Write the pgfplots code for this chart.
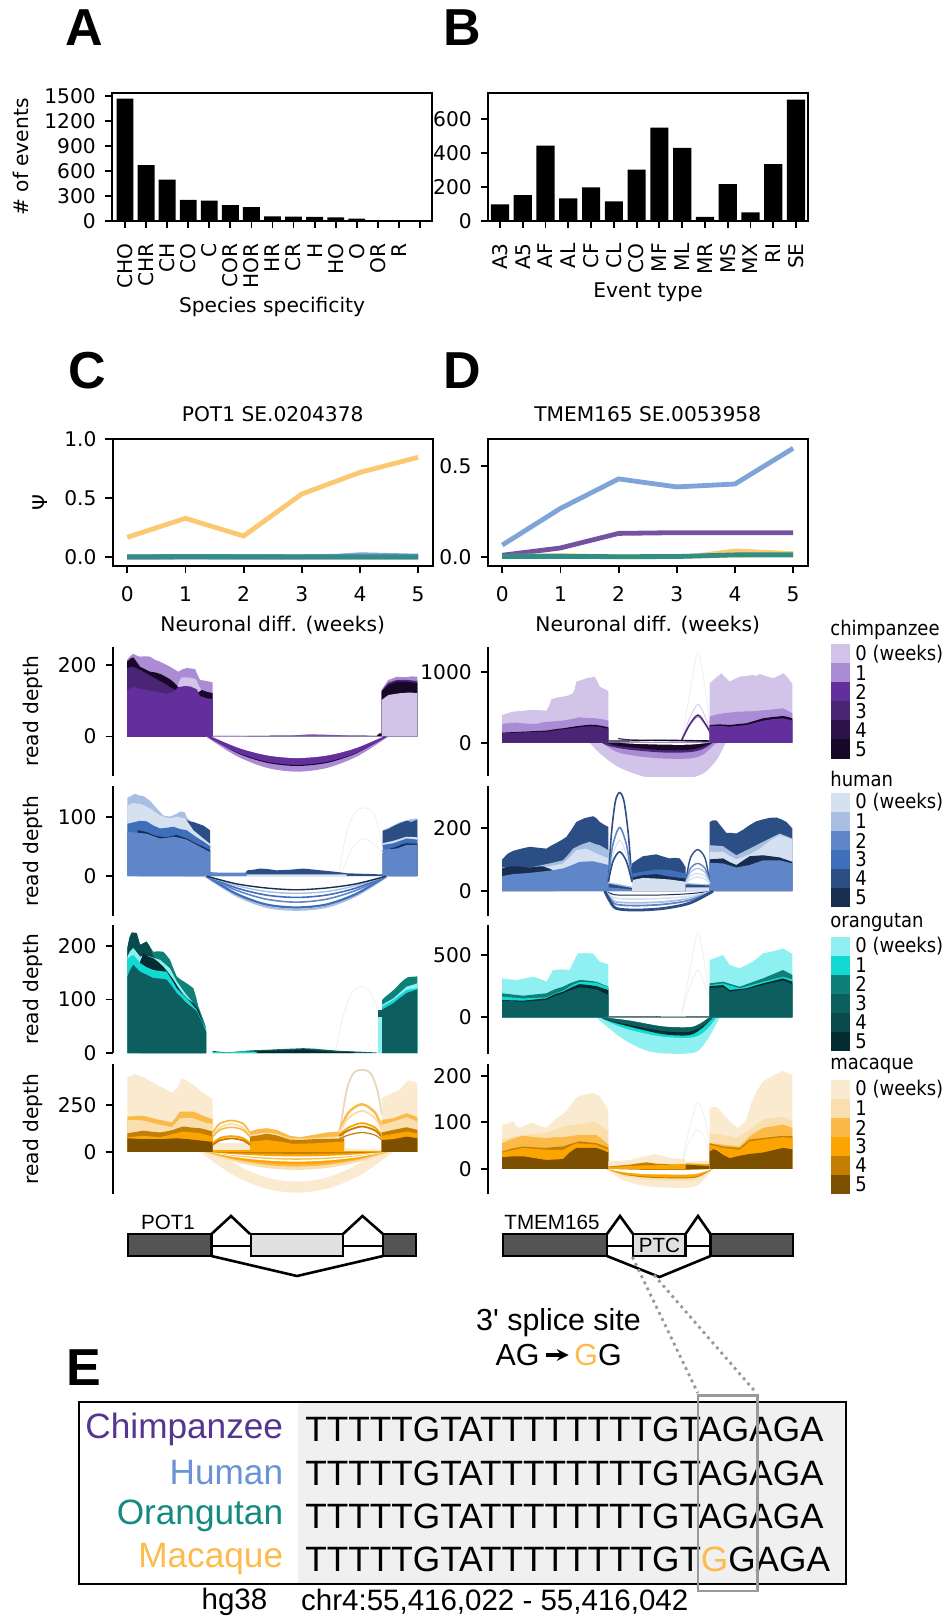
\documentclass[border=0pt]{standalone}
\usepackage{pgfplots}
\pgfplotsset{compat=1.18}
\usepackage{fontspec}
\setmainfont{DejaVu Sans}
\newfontfamily\ar{Liberation Sans}
\definecolor{c0}{HTML}{D2C3E8}\definecolor{c1}{HTML}{AA8BD4}\definecolor{c2}{HTML}{632F9C}
\definecolor{c3}{HTML}{4A2475}\definecolor{c4}{HTML}{2B1248}\definecolor{c5}{HTML}{170828}
\definecolor{h0}{HTML}{D5E0F0}\definecolor{h1}{HTML}{A9BFE2}\definecolor{h2}{HTML}{5F86C8}
\definecolor{h3}{HTML}{3F6FBA}\definecolor{h4}{HTML}{2B4F85}\definecolor{h5}{HTML}{182D50}
\definecolor{o0}{HTML}{8EF0F0}\definecolor{o1}{HTML}{12DAD2}\definecolor{o2}{HTML}{0E8078}
\definecolor{o3}{HTML}{0C5F5E}\definecolor{o4}{HTML}{094B4C}\definecolor{o5}{HTML}{042C30}
\definecolor{m0}{HTML}{F9EAD0}\definecolor{m1}{HTML}{FADFAE}\definecolor{m2}{HTML}{FBB948}
\definecolor{m3}{HTML}{FCA500}\definecolor{m4}{HTML}{C47E04}\definecolor{m5}{HTML}{7D5000}
\definecolor{lchimp}{HTML}{73539F}\definecolor{lhuman}{HTML}{7EA4D8}
\definecolor{lorang}{HTML}{2F8F85}\definecolor{lmac}{HTML}{FAC971}
\definecolor{faint}{HTML}{EFEFEF}\definecolor{tan}{HTML}{E8D8B8}
\newcommand{\Ar}[2]{\addplot[fill=#1,draw=none,mark=none] coordinates {#2} \closedcycle;}
\newcommand{\Dm}[2]{\addplot[fill=#1,draw=none,mark=none,smooth] coordinates {#2} \closedcycle;}
\newcommand{\Ln}[3]{\addplot[color=#1,line width=#2,mark=none,smooth] coordinates {#3};}
\newcommand{\fs}{\fontsize{10.1}{12}\selectfont}
\pgfplotsset{
 base/.style={scale only axis,
  /pgf/number format/assume math mode=true,/pgf/number format/1000 sep={},
  tick label style={font=\fs},label style={font=\fs},title style={font=\fs},
  axis line style={line width=1pt},tick style={black,line width=.9pt},
  tick align=outside,major tick length=3.6pt,every axis title shift=0pt,
  every y tick label/.append style={xshift=-1pt}},
 box/.style={base,xtick pos=bottom,ytick pos=left},
 bars/.style={box,ybar,bar width=.8,width=160pt,height=64pt,ymin=0,
  xtick=data,xticklabel style={rotate=90,anchor=east,xshift=-4pt},
  xlabel style={at={(axis description cs:.5,#1)},anchor=center}},
 psi/.style={box,width=160pt,height=63.5pt,xmin=-.25,xmax=5.25,xtick={0,1,2,3,4,5},
  every x tick label/.append style={yshift=-3pt},
  title style={at={(axis description cs:.5,1.197)},anchor=center},
  xlabel={Neuronal diff. (weeks)},
  xlabel style={at={(axis description cs:.5,-.465)},anchor=center}},
 rd/.style={base,hide x axis,axis y line*=left,axis line style={-},height=64.7pt},
 rl/.style={rd,width=159.65pt,xmin=158,xmax=1116,ylabel={read depth},
  ylabel style={at={(axis description cs:-.25,.5)},anchor=center}},
 rr/.style={rd,width=159.85pt,xmin=175,xmax=1134},
}
\begin{document}
\begin{tikzpicture}
\path[use as bounding box] (0,0) rectangle (473.5pt,-808.5pt);

% ---------- A
\begin{axis}[bars=-.67,at={(56pt,-110.5pt)},xmin=-.617,xmax=14.57,ymax=1533,
 ytick={0,300,600,900,1200,1500},
 xticklabels={CHO,CHR,CH,CO,C,COR,HOR,HR,CR,H,HO,O,OR,R},
 xlabel={Species specificity},ylabel={\# of events},
 ylabel style={at={(axis description cs:-.284,.5)},anchor=center}]
\addplot[fill=black,draw=none] coordinates {(0,1467)(1,669)(2,496)(3,254)(4,245)(5,190)(6,165)(7,55)(8,52)(9,50)(10,42)(11,28)(12,6)(13,4)(14,3)};
\end{axis}
% ---------- B
\begin{axis}[bars=-.56,at={(244pt,-110.5pt)},xmin=-.53,xmax=13.53,ymax=755,
 ytick={0,200,400,600},
 xticklabels={A3,A5,AF,AL,CF,CL,CO,MF,ML,MR,MS,MX,RI,SE},
 xlabel={Event type}]
\addplot[fill=black,draw=none] coordinates {(0,98)(1,152)(2,444)(3,134)(4,199)(5,116)(6,303)(7,551)(8,432)(9,25)(10,218)(11,51)(12,336)(13,716)};
\end{axis}
% ---------- C psi
\begin{axis}[psi,at={(56.35pt,-283pt)},ymin=-.076,ymax=1,ytick={0,.5,1},
 yticklabel style={/pgf/number format/fixed,/pgf/number format/precision=1,/pgf/number format/fixed zerofill},
 title={POT1 SE.0204378},ylabel={Ψ},
 ylabel style={at={(axis description cs:-.228,.5)},anchor=center}]
\addplot[fill=lhuman,draw=none,mark=none] coordinates {(2.9,0)(4,.04)(5,.028)(5,0)(4,0)(2.9,0)};
\addplot[color=lmac,line width=2.4pt,mark=none] coordinates {(0,.167)(1,.328)(2,.178)(3,.534)(4,.717)(5,.845)};
\addplot[color=lhuman,line width=2.4pt,mark=none] coordinates {(0,.002)(1,.005)(2,.004)(3,.003)(4,.01)(5,.006)};
\addplot[color=lchimp,line width=2.4pt,mark=none] coordinates {(0,0)(1,.001)(2,.001)(3,0)(4,.001)(5,.001)};
\addplot[color=lorang,line width=2.4pt,mark=none] coordinates {(0,0)(1,.002)(2,.001)(3,.001)(4,.001)(5,.001)};
\end{axis}
% ---------- D psi
\begin{axis}[psi,at={(243.85pt,-283pt)},ymin=-.049,ymax=.648,ytick={0,.5},
 yticklabel style={/pgf/number format/fixed,/pgf/number format/precision=1,/pgf/number format/fixed zerofill},
 title={TMEM165 SE.0053958}]
\addplot[fill=lmac,draw=none,mark=none] coordinates {(2.9,.002)(4,.047)(5,.032)(5,0)(4,0)(2.9,0)};
\addplot[color=lhuman,line width=2.4pt,mark=none] coordinates {(0,.066)(1,.267)(2,.429)(3,.385)(4,.401)(5,.597)};
\addplot[color=lchimp,line width=2.4pt,mark=none] coordinates {(0,.01)(1,.05)(2,.13)(3,.134)(4,.134)(5,.134)};
\addplot[color=lmac,line width=2.4pt,mark=none] coordinates {(0,.003)(1,.008)(2,.002)(3,.003)(4,.012)(5,.02)};
\addplot[color=lorang,line width=2.4pt,mark=none] coordinates {(0,.004)(1,.004)(2,.002)(3,.003)(4,.012)(5,.012)};
\end{axis}

% ---------- L1 chimp POT1
\begin{axis}[rl,at={(56.35pt,-388pt)},ymin=-110,ymax=251,ytick={0,200}]
\Ar{c1}{(201,214)(212,226)(220,231)(232,225)(240,223)(255,224)(270,223)(285,214)(300,209)(315,202)(330,195)(345,186)(355,181)(368,188)(380,191)(393,190)(405,188)(413,172)(420,158)(440,155)(458,151)}
\Ar{c0}{(355,150)(365,165)(380,165)(395,164)(408,160)(418,140)(430,120)(458,100)}
\Ar{c5}{(201,209)(210,217)(220,221)(230,208)(240,195)(255,188)(270,181)(285,179)(300,175)(315,168)(330,160)(340,152)(350,143)(360,128)(410,120)(425,130)(440,125)(458,121)}
\Ar{c3}{(201,191)(212,194)(220,195)(235,188)(250,181)(270,170)(290,160)(305,152)(320,144)(335,135)(350,128)(360,125)(458,100)}
\Ar{c2}{(201,130)(210,134)(220,138)(240,133)(270,128)(295,124)(320,119)(340,125)(355,138)(375,141)(390,140)(410,132)(420,113)(440,107)(458,104)}
\Ar{c1}{(965,130)(975,145)(985,158)(997,162)(1010,167)(1025,166)(1040,166)(1055,168)(1072,167)}
\Ar{c3}{(965,128)(985,150)(1010,158)(1040,158)(1072,155)}
\Ar{c5}{(965,126)(985,144)(1010,153)(1040,153)(1072,149)}
\Ar{c0}{(965,102)(985,116)(1020,121)(1050,123)(1072,121)}
\Ar{c1}{(458,3)(600,2)(700,3)(750,7)(790,6)(860,3)(965,2)}
\Ar{c5}{(560,2)(600,2)(690,3)(860,3)(950,2)(958,9)(965,9)}
\Dm{c1}{(438,0)(529,-54)(620,-87)(711,-98)(803,-87)(894,-54)(985,0)}
\Dm{c5}{(445,0)(531,-46)(620,-73)(711,-82)(803,-73)(891,-46)(978,0)}
\Dm{c2}{(440,0)(530,-44)(620,-70)(711,-79)(803,-70)(893,-44)(982,0)}
\Dm{white}{(455,0)(540,-33)(625,-53)(711,-60)(800,-53)(885,-33)(970,0)}
\end{axis}
% ---------- R1 chimp TMEM165
\begin{axis}[rr,at={(244pt,-388pt)},ymin=-474,ymax=1365,ytick={0,1000}]
\Dm{c0}{(480,0)(510,-150)(560,-330)(620,-450)(680,-520)(760,-520)(820,-440)(860,-250)(888,0)}
\Dm{c1}{(516,0)(560,-130)(620,-190)(700,-225)(780,-225)(820,-170)(860,0)}
\Dm{c3}{(516,0)(540,-50)(600,-100)(700,-140)(780,-135)(820,-90)(850,0)}
\Dm{c5}{(530,0)(560,-40)(620,-75)(700,-105)(780,-100)(820,-55)(845,0)}
\Dm{white}{(570,0)(610,-15)(700,-28)(780,-28)(840,0)}
\Ln{faint}{.4pt}{(755,25)(780,700)(805,1270)(828,700)(843,130)}
\Ln{c0}{.4pt}{(755,25)(780,350)(805,545)(828,350)(843,130)}
\Ln{c1}{.7pt}{(755,25)(780,250)(805,370)(828,250)(843,130)}
\Ln{c3}{.7pt}{(755,25)(780,260)(805,393)(828,260)(843,130)}
\Ln{c3}{.6pt}{(565,60)(600,40)(700,30)(840,20)}
\Ln{c5}{.6pt}{(536,25)(600,25)(700,35)(840,25)}
\Ar{c0}{(217,393)(235,420)(250,441)(275,450)(300,464)(325,462)(350,455)(358,520)(365,616)(382,640)(400,654)(415,670)(430,701)(436,780)(440,867)(455,890)(470,915)(483,925)(495,938)(503,870)(510,796)(525,760)(536,735)}
\Ar{c1}{(217,265)(240,280)(260,284)(290,270)(320,265)(340,290)(360,299)(380,305)(400,313)(425,335)(450,360)(475,350)(500,346)(520,330)(536,313)}
\Ar{c5}{(217,142)(250,150)(280,156)(315,165)(350,171)(375,190)(400,204)(435,230)(470,251)(485,255)(500,251)(520,235)(536,218)}
\Ar{c3}{(217,133)(250,140)(280,147)(315,152)(350,156)(375,175)(400,190)(435,210)(470,232)(500,232)(520,215)(536,199)}
\Ar{c0}{(840,844)(858,920)(875,986)(888,920)(900,867)(915,905)(930,938)(950,950)(970,962)(980,950)(990,976)(1010,945)(1030,915)(1046,950)(1062,986)(1075,920)(1088,834)}
\Ar{c1}{(840,370)(860,400)(880,417)(905,430)(930,441)(960,445)(990,455)(1025,470)(1060,488)(1075,450)(1088,417)}
\Ar{c5}{(840,251)(870,260)(900,251)(925,265)(950,275)(975,310)(1000,346)(1030,365)(1060,379)(1075,365)(1088,346)}
\Ar{c2}{(840,237)(870,240)(900,227)(925,240)(950,251)(975,280)(1000,313)(1030,335)(1060,346)(1075,330)(1088,313)}
\end{axis}
% ---------- L2 human POT1
\begin{axis}[rl,at={(56.35pt,-457.85pt)},ymin=-67,ymax=152.5,ytick={0,100}]
\Ar{h1}{(202,133)(212,136)(225,140)(237,137)(250,136)(270,128)(290,115)(310,103)(330,101)(350,106)(362,110)(375,108)(380,100)(450,60)}
\Ar{h4}{(370,60)(378,95)(390,93)(400,92)(415,89)(430,86)(440,82)(450,78)}
\Ar{h0}{(202,119)(210,122)(220,124)(232,123)(245,122)(270,115)(300,103)(330,98)(350,101)(365,99)(375,98)(388,88)(400,78)(415,71)(430,64)(450,55)}
\Ar{h3}{(202,89)(225,92)(240,94)(260,93)(280,86)(300,81)(320,82)(340,84)(360,80)(380,78)(410,66)(430,59)(450,51)}
\Ar{h5}{(232,75)(234,78)(260,75)(275,71)(290,68)(320,66)(350,70)(380,64)(410,55)(430,50)(450,44)}
\Ar{h2}{(202,75)(230,74)(260,72)(280,68)(300,64)(320,65)(340,67)(360,65)(380,62)(410,53)(430,47)(450,41)}
\Ar{h1}{(968,78)(985,82)(1000,86)(1020,92)(1040,95)(1055,97)(1072,98)}
\Ar{h4}{(968,77)(985,80)(1000,85)(1020,90)(1040,94)(1055,92)(1072,96)}
\Ar{h0}{(968,56)(1000,60)(1040,67)(1072,66)}
\Ar{h3}{(968,53)(1000,56)(1040,64)(1072,62)}
\Ar{h5}{(990,47)(1010,50)(1025,54)(1040,56)(1072,55)}
\Ar{h2}{(968,45)(1010,47)(1040,53)(1072,53)}
\Ar{h4}{(450,5)(555,5)(562,10)(580,11)(600,13)(625,12)(650,10)(690,11)(730,13)(765,11)(800,9)(835,7)(860,5)(968,3)}
\Ar{h2}{(450,7)(480,6)(560,6)(560,0)}
\Ar{h0}{(560,3)(700,3)(860,3)(860,0)}
\Ln{faint}{.4pt}{(838,8)(860,75)(885,108)(912,116)(940,108)(958,75)(968,45)}
\Ln{faint}{.4pt}{(845,8)(880,50)(912,64)(945,52)(968,40)}
\Ln{h1}{1pt}{(436,0)(530,-33)(619,-52)(709,-57)(799,-52)(888,-33)(982,0)}
\Ln{h3}{1.1pt}{(440,0)(530,-30)(619,-48)(709,-53)(799,-48)(888,-30)(978,0)}
\Ln{h2}{.8pt}{(440,0)(530,-24)(619,-39)(709,-44)(799,-39)(888,-24)(978,0)}
\Ln{h3}{.8pt}{(440,0)(530,-20)(619,-32)(709,-36)(799,-32)(888,-20)(978,0)}
\Ln{h1}{.7pt}{(440,0)(530,-16)(619,-26)(709,-29)(799,-26)(888,-16)(978,0)}
\Ln{h5}{.7pt}{(440,0)(530,-13)(619,-20)(709,-23)(799,-20)(888,-13)(978,0)}
\end{axis}
% ---------- R2 human TMEM165
\begin{axis}[rr,at={(244pt,-457.85pt)},ymin=-78,ymax=333,ytick={0,200}]
\Ar{h4}{(217,100)(233,118)(250,128)(275,135)(300,141)(325,138)(350,135)(365,145)(380,153)(395,162)(410,172)(425,195)(440,220)(465,232)(490,238)(500,232)(510,220)(525,210)(536,204)}
\Ar{h1}{(217,75)(300,75)(360,88)(400,98)(415,115)(430,135)(455,148)(480,157)(495,150)(510,146)(536,130)}
\Ar{h0}{(217,75)(300,72)(360,79)(400,88)(420,108)(440,130)(470,135)(500,120)(536,104)}
\Ar{h5}{(217,72)(232,77)(250,79)(275,78)(300,75)(320,78)(340,79)(352,74)(365,69)(375,60)}
\Ar{h2}{(217,48)(250,54)(300,58)(360,65)(400,72)(425,82)(450,93)(470,94)(490,95)(510,90)(536,83)}
\Ar{h1}{(536,28)(570,22)(607,14)}
\Ar{h4}{(536,24)(570,17)(607,10)}
\Ar{h2}{(536,12)(570,9)(607,5)}
\Ar{h4}{(607,88)(623,100)(640,111)(660,114)(680,117)(700,110)(720,104)(735,106)(750,104)(760,90)(768,75)}
\Ar{h3}{(607,56)(640,62)(680,69)(720,67)(768,56)}
\Ar{h5}{(607,43)(640,51)(680,54)(720,46)(768,40)}
\Ar{h0}{(607,35)(640,42)(680,40)(720,37)(768,30)}
\Ar{h1}{(768,26)(800,24)(840,22)}
\Ar{h4}{(768,22)(800,20)(840,18)}
\Ar{h0}{(768,12)(800,12)(840,12)}
\Ar{h4}{(840,220)(850,225)(860,225)(875,205)(890,185)(905,185)(920,183)(940,195)(960,210)(980,222)(1000,228)(1020,233)(1040,234)(1055,228)(1070,220)(1088,199)}
\Ar{h1}{(840,146)(880,143)(900,128)(920,114)(960,135)(1000,157)(1050,183)(1088,167)}
\Ar{h0}{(840,125)(880,125)(900,112)(920,101)(960,117)(990,135)(1020,160)(1050,178)(1088,164)}
\Ar{h5}{(840,101)(880,104)(900,92)(920,83)(960,111)(1000,114)(1050,107)(1088,93)}
\Ar{h2}{(840,90)(880,88)(920,75)(960,83)(1000,98)(1050,98)(1088,88)}
\Ln{h0}{.5pt}{(536,30)(548,110)(570,162)(592,110)(607,30)}
\Ln{h4}{.8pt}{(536,30)(545,180)(557,285)(570,313)(583,285)(596,180)(607,30)}
\Ln{h2}{.8pt}{(536,30)(548,140)(570,202)(592,140)(607,30)}
\Ln{h4}{.8pt}{(536,30)(550,95)(570,125)(590,95)(607,30)}
\Ln{h4}{.7pt}{(768,30)(782,105)(804,132)(826,105)(840,30)}
\Ln{h2}{.7pt}{(768,28)(782,72)(804,88)(826,72)(840,28)}
\Ln{h1}{.6pt}{(768,26)(782,60)(804,72)(826,60)(840,26)}
\Ln{h0}{.6pt}{(768,24)(782,48)(804,56)(826,48)(840,24)}
\Ln{h0}{.6pt}{(768,22)(782,38)(804,45)(826,38)(840,22)}
\Ln{h5}{.5pt}{(525,0)(540,-6)(560,-12)(620,-13)(700,-12)(780,-8)(850,0)}
\Ln{h0}{.8pt}{(525,0)(540,-12)(560,-23)(620,-25)(700,-23)(780,-16)(850,0)}
\Ln{h1}{.9pt}{(525,0)(540,-18)(560,-34)(620,-37)(700,-34)(780,-23)(850,0)}
\Ln{h2}{.9pt}{(525,0)(540,-23)(560,-42)(620,-46)(700,-42)(780,-29)(850,0)}
\Ln{h4}{1.4pt}{(525,0)(540,-30)(560,-55)(620,-60)(700,-55)(780,-38)(850,0)}
\end{axis}
% ---------- L3 orangutan POT1
\begin{axis}[rl,at={(56.35pt,-526.5pt)},height=64pt,ymin=0,ymax=239,ytick={0,100,200}]
\Ar{o2}{(202,196)(208,215)(215,225)(230,224)(240,202)(250,205)(260,208)(270,198)(280,189)(295,190)(310,189)(320,182)(330,174)(340,158)(350,143)(360,138)(370,134)(385,128)(400,121)(408,105)(415,87)(422,75)(430,62)(438,47)}
\Ar{o4}{(202,196)(208,215)(215,225)(230,224)(240,202)(250,205)(260,208)(270,198)(280,180)(310,165)(350,120)(438,40)}
\Ar{o0}{(202,180)(210,190)(220,196)(230,188)(240,180)(255,182)(270,180)(300,174)(330,158)(340,146)(350,134)(375,112)(400,93)(410,78)(420,62)(438,45)}
\Ar{o5}{(240,170)(250,186)(265,180)(280,177)(295,170)(310,161)(325,150)(340,137)(355,122)(370,109)(385,100)(400,93)(415,81)(438,40)}
\Ar{o1}{(202,174)(210,180)(220,183)(230,176)(240,168)(260,160)(280,155)(300,153)(320,152)(335,137)(350,121)(365,111)(380,102)(395,92)(410,81)(424,62)(438,43)}
\Ar{o3}{(202,143)(210,155)(220,165)(230,158)(240,152)(260,146)(280,140)(300,139)(320,137)(335,125)(350,112)(365,103)(380,93)(395,86)(410,78)(424,60)(438,40)}
\Ar{o3}{(458,4)(500,1)(575,5)(620,6)(650,7)(690,8)(730,9)(765,8)(800,6)(840,4)(880,3)(950,1)}
\Ar{o1}{(458,2)(500,1)(530,2)(550,3)(600,2)(750,1)(750,0)}
\Ar{o5}{(590,3)(620,4)(700,5)(730,7)(760,5)(830,2)(880,2)}
\Ln{faint}{.4pt}{(828,8)(850,70)(875,112)(905,124)(930,115)(945,95)(955,75)}
\Ar{o3}{(953,80)(966,80)}
\Ar{o0}{(953,68)(966,68)}
\Ar{o2}{(966,99)(978,106)(990,112)(1005,120)(1020,130)(1032,137)(1045,142)(1072,143)}
\Ar{o0}{(966,90)(1000,102)(1040,124)(1072,130)}
\Ar{o1}{(966,87)(1000,99)(1040,118)(1072,121)}
\Ar{o3}{(966,81)(1000,93)(1020,103)(1040,112)(1072,119)}
\end{axis}
% ---------- R3 orangutan TMEM165
\begin{axis}[rr,at={(244pt,-527pt)},height=64.5pt,ymin=-294,ymax=741,ytick={0,500}]
\Dm{o0}{(500,0)(530,-70)(590,-190)(670,-280)(790,-285)(830,-190)(870,0)}
\Dm{o1}{(510,0)(540,-40)(600,-100)(700,-155)(790,-160)(830,-100)(860,0)}
\Dm{o5}{(512,0)(545,-35)(600,-75)(700,-135)(780,-142)(820,-80)(850,0)}
\Dm{o3}{(512,0)(545,-30)(600,-60)(700,-110)(780,-115)(820,-65)(850,0)}
\Dm{white}{(525,0)(600,-25)(700,-72)(780,-78)(810,-50)(835,-5)(840,0)}
\Ln{faint}{.4pt}{(755,20)(780,370)(805,674)(828,370)(843,130)}
\Ln{faint}{.4pt}{(755,20)(780,240)(805,380)(828,240)(843,130)}
\Ar{o5}{(536,8)(680,9)(700,6)(840,8)}
\Ar{o0}{(217,313)(240,305)(260,299)(285,312)(310,326)(330,310)(350,286)(360,330)(370,380)(395,385)(420,380)(432,450)(445,513)(465,515)(490,513)(500,480)(510,447)(525,435)(536,425)}
\Ar{o2}{(217,193)(280,174)(350,193)(375,225)(400,246)(425,278)(450,300)(475,295)(500,286)(536,246)}
\Ar{o1}{(217,166)(280,152)(350,160)(375,190)(400,214)(425,255)(450,286)(475,282)(500,278)(536,241)}
\Ar{o5}{(217,139)(280,134)(350,152)(375,185)(400,206)(425,240)(450,267)(475,260)(500,251)(536,219)}
\Ar{o3}{(217,134)(280,126)(350,139)(375,170)(400,193)(425,220)(450,241)(475,233)(500,225)(536,179)}
\Ar{o0}{(840,460)(860,480)(880,500)(890,460)(900,420)(930,393)(950,420)(970,447)(985,480)(1000,513)(1030,530)(1060,553)(1075,530)(1088,508)}
\Ar{o2}{(840,273)(880,286)(930,246)(1000,313)(1060,380)(1088,340)}
\Ar{o1}{(840,259)(880,273)(930,233)(1000,286)(1060,326)(1088,305)}
\Ar{o5}{(840,251)(880,259)(900,219)(950,233)(1000,273)(1060,313)(1088,286)}
\Ar{o3}{(840,233)(880,241)(900,206)(950,225)(1000,259)(1060,294)(1088,267)}
\end{axis}
% ---------- L4 macaque POT1
\begin{axis}[rl,at={(56.35pt,-597pt)},height=65pt,ymin=-225,ymax=470,ytick={0,250}]
\Dm{m0}{(420,0)(517,-121)(613,-194)(710,-218)(807,-194)(903,-121)(1000,0)}
\Dm{white}{(470,0)(550,-88)(630,-141)(710,-159)(790,-141)(870,-88)(950,0)}
\Dm{m1}{(430,0)(523,-53)(617,-85)(710,-96)(803,-85)(897,-53)(990,0)}
\Dm{m2}{(435,0)(527,-43)(618,-69)(710,-78)(802,-69)(893,-43)(985,0)}
\Dm{m3}{(440,0)(530,-37)(620,-59)(710,-66)(800,-59)(890,-37)(980,0)}
\Dm{white}{(440,0)(530,-29)(620,-46)(710,-52)(800,-46)(890,-29)(980,0)}
\Dm{m2}{(440,0)(530,-23)(620,-37)(710,-42)(800,-37)(890,-23)(980,0)}
\Dm{white}{(440,0)(530,-19)(620,-30)(710,-34)(800,-30)(890,-19)(980,0)}
\Dm{m3}{(440,0)(530,-13)(620,-21)(710,-24)(800,-21)(890,-13)(980,0)}
\Dm{m4}{(440,0)(530,-6)(620,-9)(710,-10)(800,-9)(890,-6)(980,0)}
\Ar{m0}{(202,398)(213,408)(225,416)(238,405)(250,400)(270,380)(290,359)(312,340)(335,318)(345,330)(355,350)(360,375)(365,395)(382,378)(400,359)(415,335)(430,314)(445,298)(458,282)}
\Ar{m2}{(202,189)(225,192)(250,193)(275,182)(300,171)(318,165)(335,157)(348,185)(360,216)(380,216)(400,216)(420,200)(440,186)(458,175)}
\Ar{m1}{(202,171)(225,170)(250,168)(275,156)(300,145)(318,140)(335,132)(348,155)(360,180)(380,182)(400,180)(420,166)(440,154)(458,150)}
\Ar{m4}{(202,100)(225,106)(250,114)(275,108)(300,104)(320,110)(340,118)(355,128)(370,136)(395,130)(420,127)(440,118)(458,109)}
\Ar{m3}{(202,79)(250,86)(300,79)(340,96)(370,109)(420,100)(458,82)}
\Ar{m5}{(202,73)(250,68)(300,68)(350,73)(385,68)(420,61)(458,54)}
\Ar{m0}{(458,46)(570,46)}
\Ar{m3}{(458,8)(570,8)}
\Ar{m2}{(570,109)(590,121)(620,127)(650,118)(670,102)(690,86)(720,79)(760,91)(800,104)(830,108)(852,114)}
\Ar{m1}{(570,91)(620,104)(650,96)(690,73)(760,73)(852,86)}
\Ar{m4}{(570,82)(600,90)(620,98)(650,88)(690,66)(720,64)(760,68)(800,70)(852,72)}
\Ar{m3}{(570,55)(620,64)(660,55)(700,43)(760,46)(852,55)}
\Ar{m0}{(852,18)(965,12)}
\Ar{m3}{(852,6)(965,6)}
\Ln{m2}{.9pt}{(458,100)(478,150)(514,168)(550,150)(570,100)}
\Ln{m1}{.9pt}{(458,90)(480,130)(514,150)(548,130)(570,90)}
\Ln{m2}{.8pt}{(458,80)(480,118)(514,132)(548,118)(570,80)}
\Ln{m3}{1pt}{(458,45)(480,74)(514,84)(548,74)(570,45)}
\Ln{m4}{.9pt}{(458,38)(480,62)(514,72)(548,62)(570,38)}
\Ln{tan}{.9pt}{(838,100)(860,330)(880,420)(906,439)(932,420)(952,330)(965,200)}
\Ln{m2}{1.2pt}{(838,110)(865,210)(906,255)(945,210)(965,130)}
\Ln{m1}{1pt}{(838,105)(865,180)(906,220)(945,180)(965,120)}
\Ln{m3}{.9pt}{(838,90)(865,130)(906,154)(945,130)(965,90)}
\Ln{m4}{.9pt}{(838,85)(865,115)(906,136)(945,115)(965,80)}
\Ln{m4}{.6pt}{(838,70)(865,90)(906,104)(945,90)(965,65)}
\Ar{m0}{(965,287)(980,300)(1000,318)(1020,332)(1032,360)(1045,382)(1060,375)(1072,368)}
\Ar{m2}{(965,171)(1000,180)(1040,207)(1072,186)}
\Ar{m1}{(965,145)(1000,162)(1040,186)(1072,162)}
\Ar{m4}{(965,104)(1000,118)(1040,132)(1072,118)}
\Ar{m3}{(965,86)(1000,96)(1040,109)(1072,100)}
\Ar{m5}{(965,64)(1000,68)(1040,82)(1072,73)}
\end{axis}
% ---------- R4 macaque TMEM165
\begin{axis}[rr,at={(244pt,-597pt)},height=65pt,ymin=-54,ymax=225,ytick={0,100,200}]
\Dm{m0}{(530,0)(580,-24)(640,-36)(700,-40)(780,-40)(810,-32)(850,0)}
\Dm{m1}{(530,0)(580,-15)(640,-22)(700,-25)(780,-25)(810,-20)(850,0)}
\Dm{m4}{(530,0)(580,-12)(640,-18)(700,-20)(780,-20)(810,-16)(850,0)}
\Dm{m3}{(530,0)(580,-11)(640,-16)(700,-18)(780,-18)(810,-14)(850,0)}
\Dm{white}{(530,0)(580,-7)(640,-11)(700,-12)(780,-12)(810,-9)(850,0)}
\Dm{m4}{(530,0)(640,-2)(780,-2)(850,0)}
\Ln{faint}{.4pt}{(755,10)(780,90)(805,142)(828,100)(843,30)}
\Ln{faint}{.4pt}{(755,10)(780,60)(805,84)(828,60)(843,20)}
\Ar{m0}{(217,95)(233,97)(250,102)(260,92)(270,88)(290,95)(310,99)(330,92)(350,88)(365,98)(380,109)(395,115)(410,124)(425,138)(440,153)(465,160)(490,163)(500,160)(510,156)(523,140)(536,126)}
\Ar{m1}{(217,63)(250,69)(280,73)(315,75)(350,77)(375,84)(400,91)(440,95)(465,98)(490,102)(515,92)(536,81)}
\Ar{m2}{(217,55)(250,65)(280,71)(315,68)(350,66)(375,68)(400,68)(450,73)(500,73)(520,62)(536,52)}
\Ar{m4}{(217,37)(250,44)(280,48)(315,46)(350,45)(375,47)(400,48)(425,54)(450,59)(500,55)(520,50)(536,45)}
\Ar{m3}{(217,35)(280,45)(350,41)(400,41)(440,55)(500,52)(536,41)}
\Ar{m5}{(217,25)(250,27)(280,27)(315,23)(350,19)(400,21)(420,35)(440,45)(470,45)(500,45)(520,40)(536,35)}
\Ar{m0}{(536,16)(570,17)(600,19)(640,26)(675,32)(700,27)(720,23)(745,22)(768,21)}
\Ar{m4}{(536,5)(600,9)(650,14)(680,11)(768,8)}
\Ar{m3}{(536,4)(620,7)(700,8)(768,11)}
\Ar{m0}{(768,16)(840,17)}
\Ar{m3}{(768,12)(840,10)}
\Ar{m5}{(768,9)(840,6)}
\Ar{m0}{(840,131)(852,133)(865,131)(882,116)(900,102)(912,95)(925,88)(938,96)(950,106)(958,125)(965,142)(982,168)(1000,188)(1030,200)(1060,210)(1075,205)(1088,203)}
\Ar{m1}{(840,77)(880,73)(920,66)(960,84)(1000,106)(1060,112)(1088,102)}
\Ar{m2}{(840,55)(880,52)(930,48)(960,70)(1000,88)(1060,95)(1088,88)}
\Ar{m4}{(840,55)(880,48)(930,45)(960,63)(1000,66)(1060,71)(1088,70)}
\Ar{m3}{(840,52)(880,45)(930,41)(960,59)(1000,63)(1060,68)(1088,66)}
\Ar{m5}{(840,37)(850,42)(860,40)(880,30)(900,23)(930,28)(960,32)(1000,35)(1030,40)(1060,45)(1088,42)}
\end{axis}

% ---------- everything in reference pixels from here
\begin{scope}[x=.5pt,y=-.5pt,font=\fs]
% panel letters
\node[font=\ar\bfseries\fontsize{26}{28}\selectfont] at (84,28) {A};
\node[font=\ar\bfseries\fontsize{26}{28}\selectfont] at (462,28) {B};
\node[font=\ar\bfseries\fontsize{26}{28}\selectfont] at (87,371) {C};
\node[font=\ar\bfseries\fontsize{26}{28}\selectfont] at (462,371) {D};
\node[font=\ar\bfseries\fontsize{26}{28}\selectfont] at (83.5,1368) {E};
% legend
\foreach \sp/\ty/\tt/\nm in {c/644.3/630/chimpanzee,h/793/779/human,o/936.7/922.7/orangutan,m/1080/1066/macaque}{
 \node[anchor=west,inner sep=0pt] at (830,\tt) {\scalebox{.89}[1]{\nm}};
 \foreach \i in {0,...,5}{
  \fill[\sp\i] (830.7,\ty+19*\i) rectangle (850,\ty+19*\i+19.2);
  \node[anchor=west,inner sep=0pt] at (855,\ty+19*\i+9.5) {\scalebox{.89}[1]{\i\ifnum\i=0\ (weeks)\fi}};
 }
}
% gene models
\begin{scope}[line width=1.3pt,line join=miter]
\draw (211.5,1234)--(231,1216)--(250,1234);
\draw (343,1234)--(362.5,1216)--(383,1234);
\draw (211.5,1246)--(383,1246);
\draw (211.5,1256)--(297,1276)--(383,1256);
\filldraw[fill=black!67] (128,1234) rectangle (211.5,1256);
\filldraw[fill=black!12] (251,1234) rectangle (343,1256);
\filldraw[fill=black!67] (383,1234) rectangle (416,1256);
\draw (607,1234)--(620,1216)--(633,1234);
\draw (685.5,1234)--(698,1216)--(710.5,1234);
\draw (607,1246)--(710.5,1246);
\draw (607,1256)--(659.5,1277)--(710.5,1256);
\filldraw[fill=black!67] (503,1234) rectangle (607,1256);
\filldraw[fill=black!12] (633,1234) rectangle (685.5,1256);
\filldraw[fill=black!67] (710.5,1234) rectangle (793,1256);
\end{scope}
\node[font=\ar\fontsize{10.3}{12}\selectfont] at (168,1222) {POT1};
\node[font=\ar\fontsize{10.3}{12}\selectfont] at (552,1222) {TMEM165};
\node[font=\ar\fontsize{10.3}{12}\selectfont] at (659.5,1245) {PTC};
% E
\fill[black!6] (297.8,1402) rectangle (845.7,1584);
\draw[line width=1pt] (79.4,1402) rectangle (845.7,1584);
\foreach \y/\nm/\co in {1429/Chimpanzee/54358F,1473/Human/6A92D4,1516/Orangutan/148A80,1559/Macaque/FDBB4D}{
 \definecolor{tc}{HTML}{\co}
 \node[anchor=east,inner sep=0pt,text=tc,font=\ar\fontsize{17.6}{19}\selectfont] at (283.5,\y) {\nm};
}
\foreach \y in {1429,1473,1516}{
 \node[anchor=west,inner sep=0pt,font=\ar\fontsize{17.6}{19}\selectfont] at (305,\y) {TTTTTGTATTTTTTTTGTAGAGA};
}
\definecolor{gg}{HTML}{FDBB4D}
\node[anchor=west,inner sep=0pt,font=\ar\fontsize{17.6}{19}\selectfont] at (305,1559) {TTTTTGTATTTTTTTTGT\textcolor{gg}{G}GAGA};
\draw[line width=1.3pt,black!40] (697.8,1395.7) rectangle (757.4,1591);
\draw[line width=1.4pt,black!40,dotted] (632.4,1257)--(697.8,1393);
\draw[line width=1.4pt,black!40,dotted] (654,1275)--(756.4,1393);
\node[font=\ar\fontsize{15.2}{17}\selectfont] at (558.5,1322.7) {3' splice site};
\node[anchor=east,inner sep=0pt,font=\ar\fontsize{15.2}{17}\selectfont] at (540,1355) {AG};
\draw[line width=1.6pt,-stealth] (545.7,1355)--(568.7,1355);
\node[anchor=west,inner sep=0pt,font=\ar\fontsize{15.2}{17}\selectfont] at (574,1355) {\textcolor{gg}{G}G};
\node[font=\ar\fontsize{14.75}{16}\selectfont] at (234.5,1601.7) {hg38};
\node[anchor=west,inner sep=0pt,font=\ar\fontsize{14.75}{16}\selectfont] at (300.8,1601.7) {chr4:55,416,022 - 55,416,042};
\end{scope}
\end{tikzpicture}
\end{document}
